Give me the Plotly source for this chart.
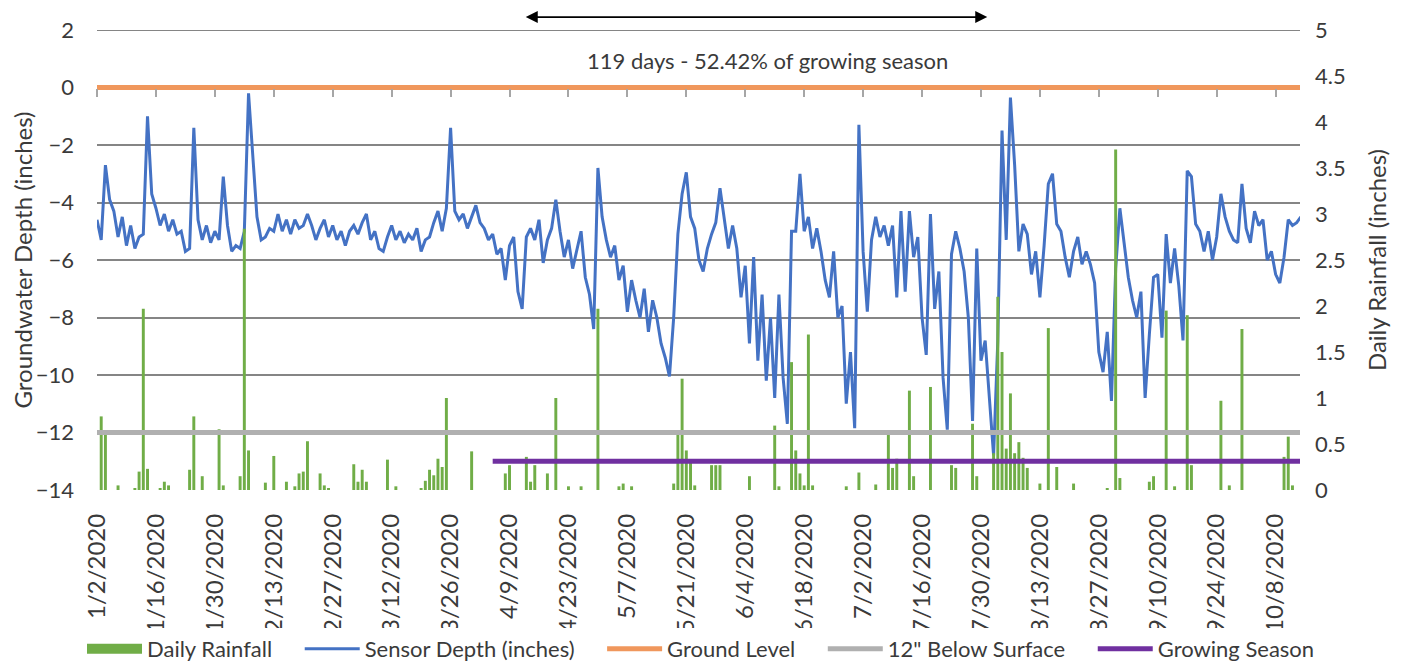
import pandas as pd
import plotly.graph_objects as go

# daily readings, 1/2/2020 .. 10/14/2020 (one row = two weeks)
dates = pd.date_range("2020-01-02", periods=287, freq="D")

sensor_depth = [
    -4.6, -5.3, -2.7, -3.9, -4.3, -5.2, -4.5, -5.5, -4.8, -5.6, -5.2, -5.1, -1.0, -3.7,
    -4.2, -4.8, -4.4, -5.0, -4.6, -5.1, -5.0, -5.7, -5.6, -1.4, -4.6, -5.3, -4.8, -5.4,
    -5.0, -5.3, -3.1, -4.8, -5.7, -5.5, -5.6, -5.0, -0.2, -2.5, -4.5, -5.3, -5.2, -4.9,
    -5.0, -4.4, -5.0, -4.6, -5.1, -4.6, -4.9, -4.8, -4.4, -4.8, -5.3, -4.9, -4.6, -5.2,
    -4.8, -5.3, -5.0, -5.5, -5.0, -4.8, -5.1, -4.7, -4.4, -5.3, -5.0, -5.6, -5.7, -5.2,
    -4.8, -5.3, -5.0, -5.4, -5.1, -5.3, -4.9, -5.7, -5.3, -5.2, -4.7, -4.3, -5.0, -4.2,
    -1.4, -4.3, -4.6, -4.4, -4.9, -4.5, -4.1, -4.7, -4.9, -5.3, -5.1, -5.8, -5.6, -6.7,
    -5.5, -5.2, -7.1, -7.7, -5.2, -4.9, -5.3, -4.6, -6.1, -5.3, -4.9, -3.9, -5.0, -5.9,
    -5.3, -6.3, -5.6, -5.0, -6.6, -7.2, -8.4, -2.8, -4.5, -5.3, -5.9, -5.5, -6.7, -6.2,
    -7.8, -6.7, -7.4, -8.0, -7.0, -8.5, -7.4, -8.0, -8.9, -9.4, -10.05, -8.0, -5.1, -3.7,
    -2.95, -4.5, -4.9, -6.0, -6.4, -5.6, -5.1, -4.7, -3.5, -4.6, -5.6, -4.8, -5.6, -7.3,
    -6.2, -8.9, -5.9, -9.5, -7.2, -10.2, -8.0, -10.8, -7.2, -10.1, -11.7, -5.0, -5.0, -3.0,
    -5.0, -4.5, -5.6, -4.9, -5.7, -6.7, -7.3, -5.7, -8.0, -7.6, -11.0, -9.2, -11.85, -1.3,
    -5.7, -7.8, -5.3, -4.5, -5.2, -4.8, -5.5, -4.8, -7.3, -4.3, -7.1, -4.3, -5.9, -5.2,
    -8.0, -9.3, -4.4, -7.7, -6.4, -10.1, -11.9, -5.8, -5.0, -5.6, -6.4, -8.0, -11.6, -5.6,
    -9.5, -8.8, -10.9, -12.8, -8.8, -1.5, -5.3, -0.35, -2.7, -5.7, -4.75, -5.1, -6.5, -5.7,
    -7.3, -5.5, -3.35, -3.0, -4.75, -5.0, -5.9, -6.6, -5.7, -5.2, -6.15, -5.7, -6.15, -6.8,
    -9.2, -9.9, -8.5, -10.9, -6.3, -4.2, -5.4, -6.6, -7.4, -8.0, -7.1, -10.8, -8.6, -6.6,
    -6.5, -8.7, -5.1, -6.8, -5.6, -6.9, -8.8, -2.9, -3.1, -4.75, -5.0, -5.7, -5.0, -6.0,
    -5.2, -3.7, -4.5, -5.0, -5.3, -5.4, -3.35, -4.9, -5.4, -4.3, -4.8, -4.6, -6.0, -5.7,
    -6.5, -6.8, -5.9, -4.6, -4.8, -4.7, -4.5,
]

daily_rainfall = [
    0, 0.8, 0.62, 0, 0, 0.05, 0, 0, 0, 0.02, 0.2, 1.97, 0.23, 0,
    0, 0.02, 0.09, 0.05, 0, 0, 0, 0, 0.22, 0.8, 0, 0.15, 0, 0,
    0, 0.66, 0.05, 0, 0, 0, 0.15, 2.84, 0.43, 0, 0, 0, 0.08, 0,
    0.37, 0, 0, 0.09, 0, 0.04, 0.18, 0.2, 0.53, 0, 0, 0.18, 0.05, 0.02,
    0, 0, 0, 0, 0, 0.28, 0.09, 0.22, 0.09, 0, 0, 0, 0, 0.33,
    0, 0.04, 0, 0, 0, 0, 0, 0.02, 0.1, 0.22, 0.16, 0.34, 0.25, 1.0,
    0, 0, 0, 0, 0, 0.42, 0, 0, 0, 0, 0, 0, 0, 0.18,
    0.27, 0, 0, 0, 0.36, 0.09, 0.27, 0, 0, 0.18, 0, 1.0, 0, 0,
    0.04, 0, 0, 0.04, 0, 0, 0, 1.97, 0, 0, 0, 0, 0.04, 0.07,
    0, 0.04, 0, 0, 0, 0, 0, 0, 0, 0, 0, 0.07, 0.6, 1.21,
    0.43, 0.3, 0.05, 0, 0, 0, 0.27, 0.27, 0.27, 0, 0, 0, 0, 0,
    0, 0.15, 0, 0, 0, 0, 0, 0.7, 0.04, 0, 0, 1.39, 0.43, 0.18,
    0.05, 1.69, 0.05, 0, 0, 0, 0, 0, 0, 0, 0.04, 0, 0, 0.19,
    0, 0, 0, 0.06, 0, 0, 0.62, 0.24, 0.34, 0, 0, 1.08, 0.15, 0,
    0, 0, 1.12, 0, 0, 0, 0, 0.27, 0.24, 0, 0, 0, 0.72, 0.15,
    0, 0, 0, 0.4, 2.1, 1.5, 0.45, 1.05, 0.4, 0.52, 0.35, 0.24, 0, 0,
    0.07, 0, 1.76, 0, 0.25, 0, 0, 0, 0.07, 0, 0, 0, 0, 0,
    0, 0, 0.02, 0, 3.7, 0.13, 0, 0, 0, 0, 0, 0, 0.09, 0.15,
    0, 0, 1.95, 0, 0.04, 0, 0, 1.9, 0.27, 0, 0, 0, 0, 0,
    0, 0.97, 0, 0.05, 0, 0, 1.75, 0, 0, 0, 0, 0, 0, 0,
    0, 0, 0.36, 0.58, 0.05, 0, 0,
]

ground_level = 0
below_surface_12 = -12
growing_season_level = -13
growing_season_start = "2020-04-05"

FONT = "Lato, Carlito, Calibri, sans-serif"
TXT = "#3A3A3A"
GRID = "#858585"
GREEN = "#70AD47"
PAD = "\u00a0" * 4  # extra room between legend entries

# the page body adds an 8px margin, so the figure is sized to the visible area
W, H = 1400, 658
PLOT_L, PLOT_T, PLOT_B = 89, 22, 482

fig = go.Figure()

# legend swatch for the bars (wide block, like the original)
fig.add_trace(go.Scatter(
    x=[None], y=[None], mode="lines", name="Daily Rainfall" + PAD,
    line=dict(color=GREEN, width=16), legendgroup="rain", yaxis="y2",
))
fig.add_trace(go.Bar(
    x=dates, y=daily_rainfall, name="Daily Rainfall", yaxis="y2",
    marker=dict(color=GREEN, line=dict(width=0)), legendgroup="rain", showlegend=False,
))
fig.add_trace(go.Scatter(
    x=dates, y=sensor_depth, name="Sensor Depth (inches)" + PAD, mode="lines",
    line=dict(color="#4472C4", width=3),
))
fig.add_trace(go.Scatter(
    x=[dates[0], dates[-1]], y=[ground_level, ground_level], name="Ground Level" + PAD,
    mode="lines", line=dict(color="#F0975C", width=5), xaxis="x2", yaxis="y3",
))
fig.add_trace(go.Scatter(
    x=[dates[0], dates[-1]], y=[below_surface_12, below_surface_12],
    name="12\" Below Surface" + PAD, mode="lines", line=dict(color="#B0B0B0", width=5),
    xaxis="x2", yaxis="y3",
))
fig.add_trace(go.Scatter(
    x=[pd.Timestamp(growing_season_start), dates[-1]],
    y=[growing_season_level, growing_season_level], name="Growing Season",
    mode="lines", line=dict(color="#7030A0", width=5), xaxis="x2", yaxis="y3",
))

x_range = ["2020-01-02", "2020-10-13 19:00"]
two_weeks = 14 * 86400000
plot_w = W - PLOT_L - 108
plot_h = PLOT_B - PLOT_T

fig.update_layout(
    width=W, height=H,
    margin=dict(l=PLOT_L, r=108, t=PLOT_T, b=H - PLOT_B, autoexpand=False),
    plot_bgcolor="white", paper_bgcolor="white",
    font=dict(family=FONT, size=22, color=TXT),
    bargap=0.3,
    showlegend=True,
    legend=dict(orientation="h", x=(74 - PLOT_L) / plot_w, xanchor="left",
                y=(PLOT_B - 641) / plot_h, yanchor="middle",
                font=dict(size=22, color=TXT), itemwidth=55, traceorder="normal"),
    xaxis=dict(
        type="date", range=x_range, tick0="2020-01-02", dtick=two_weeks,
        tickformat="%-m/%-d/%Y", tickangle=-90, showgrid=False, showline=False,
        zeroline=False, ticks="", ticklabelstandoff=18, automargin=False,
        tickfont=dict(size=24, color=TXT),
    ),
    xaxis2=dict(
        type="date", overlaying="x", matches="x", anchor="free", position=14 / 16,
        tick0="2020-01-02", dtick=two_weeks, showticklabels=False, showgrid=False,
        showline=False, zeroline=False, ticks="outside", ticklen=8,
        tickcolor="#A6A6A6", tickwidth=1.5, automargin=False,
    ),
    yaxis=dict(
        range=[-14, 2], dtick=2, showgrid=True, gridcolor=GRID, gridwidth=2,
        zeroline=False, showline=False, ticks="", ticklabelstandoff=22,
        automargin=False, tickfont=dict(size=22, color=TXT),
        title=dict(text="Groundwater Depth (inches)", font=dict(size=24, color=TXT), standoff=6),
    ),
    yaxis2=dict(
        range=[0, 5], dtick=0.5, overlaying="y", side="right", showgrid=False,
        zeroline=False, showline=False, ticks="", ticklabelstandoff=14,
        automargin=False, tickfont=dict(size=22, color=TXT),
        title=dict(text="Daily Rainfall (inches)", font=dict(size=24, color=TXT), standoff=24),
    ),
    yaxis3=dict(range=[-14, 2], overlaying="y", visible=False),
)

# top gridline at 2 (plotly skips the grid line on the plot edge)
fig.add_shape(type="line", xref="paper", yref="y", x0=0, x1=1, y0=2, y1=2,
              line=dict(color=GRID, width=2), layer="below")

fig.add_annotation(
    x="2020-07-31 12:00", y=1.028, xref="x", yref="paper",
    ax="2020-04-12 12:00", ay=0, axref="x", ayref="pixel",
    text="", showarrow=True, arrowside="end+start", arrowhead=2,
    arrowsize=1.5, arrowwidth=1.6, arrowcolor="black",
)
fig.add_annotation(
    x=0.557, y=0.933, xref="paper", yref="paper", xanchor="center", yanchor="middle",
    showarrow=False, text="119 days - 52.42% of growing season",
    font=dict(size=22, color=TXT),
)

fig.write_html("out.html")
